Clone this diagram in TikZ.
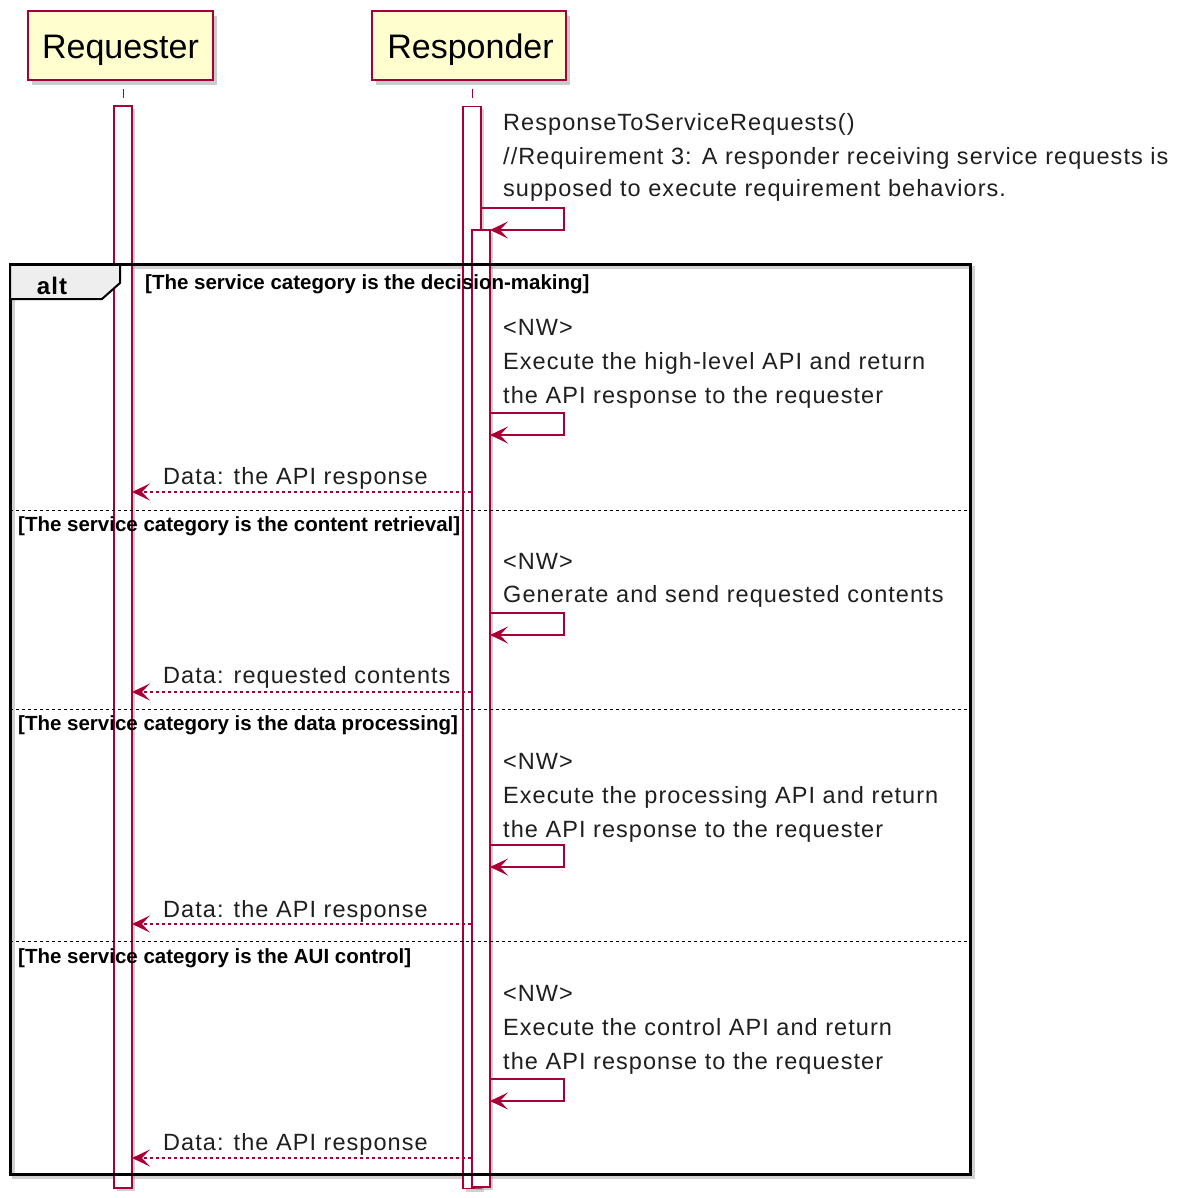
\documentclass[tikz,border=0pt]{standalone}
\usepackage{fontspec}
\setmainfont{Liberation Sans}
\newfontfamily\msgfont[LetterSpace=4.5]{Liberation Sans}
\newfontfamily\altfont[LetterSpace=5]{Liberation Sans}
\usetikzlibrary{arrows.meta,shadows}
\definecolor{umlred}{HTML}{A80036}
\definecolor{umlfill}{HTML}{FEFECE}
\definecolor{tabgray}{HTML}{EEEEEE}
\begin{document}
\begin{tikzpicture}[x=1pt,y=-1pt,
  participant/.style={draw=umlred, fill=umlfill, line width=1.6pt, inner sep=0pt,
    drop shadow={shadow xshift=4pt, shadow yshift=-5pt, fill=black!45, opacity=.45}},
  partlabel/.style={anchor=base, inner sep=0pt, font=\fontsize{34}{40}\selectfont},
  actbox/.style={draw=umlred, fill=white, line width=1.3pt, inner sep=0pt, minimum width=18pt,
    drop shadow={shadow xshift=3pt, shadow yshift=-3pt, fill=black!40, opacity=.45}},
  lifeline/.style={draw=umlred, line width=1pt},
  msg/.style={draw=umlred, line width=1.3pt, -{Stealth[length=18pt,width=17pt,inset=8pt]}},
  ret/.style={msg, dash pattern=on 3pt off 3pt},
  msgtext/.style={anchor=base west, inner sep=0pt, font=\msgfont\fontsize{23.5}{28}\selectfont, text=black!88},
  guard/.style={anchor=base west, inner sep=0pt, font=\bfseries\fontsize{20.5}{24}\selectfont},
  frameline/.style={draw=black, line width=3pt},
  separator/.style={draw=black, line width=1pt, dash pattern=on 3pt off 3pt},
]
\useasboundingbox[fill=white] (0,0) rectangle (1190,1198);

% participants
\node[participant, minimum width=185pt, minimum height=69pt] (req) at (120.5,45.5) {};
\node[partlabel] (reqname) at (120.5,59) {Requester};
\node[participant, minimum width=194pt, minimum height=69pt] (rsp) at (469,45.5) {};
\node[partlabel] (rspname) at (470.5,59) {Responder};

% lifeline stubs between header and activation
\coordinate (reqtop) at (123,89);
\coordinate (rsptop) at (472,89);
\draw[lifeline] (reqtop) -- ++(0,9);
\draw[lifeline] (rsptop) -- ++(0,9);

% shadow of the alt frame outline
\draw[black!45, opacity=.4, line width=3.5pt] (13.5,267.5) rectangle (973.5,1177.5);

% activation bars
\node[actbox, minimum height=1082pt] (reqact) at (123,647) {};
\node[actbox, minimum height=1082pt] (rspact) at (472,647.5) {};
\node[actbox, minimum height=957pt] (rspact2) at (481,708.5) {};

% alt frame
\draw[frameline] (10,264) rectangle (970,1174);
\draw[fill=tabgray, draw=black, line width=2pt] (10,264) -- (120,264) -- (120,283) -- (102,299) -- (10,299) -- cycle;
\draw[frameline] (10,264) -- (970,264);
\node[anchor=base, inner sep=0pt, font=\altfont\bfseries\fontsize{24}{28}\selectfont] (altlabel) at (52,294) {alt};
\node[guard] (g1) at (145,289) {[The service category is the decision-making]};

\draw[separator] (10,510) -- (970,510);
\node[guard] (g2) at (18,531) {[The service category is the content retrieval]};
\draw[separator] (10,709) -- (970,709);
\node[guard] (g3) at (18,730) {[The service category is the data processing]};
\draw[separator] (10,941) -- (970,941);
\node[guard] (g4) at (18,963) {[The service category is the AUI control]};

% request handling self call
\node[msgtext] (t0a) at (503,131) {ResponseToServiceRequests()};
\node[msgtext] (t0b) at (503,164.5) {//Requirement 3: A responder receiving service requests is};
\node[msgtext] (t0c) at (503,197) {supposed to execute requirement behaviors.};
\coordinate (s0a) at (481,208);
\coordinate (s0b) at (490,230);
\draw[msg] (s0a) -- ++(83,0) |- (s0b);

% branch 1
\node[msgtext] (t1a) at (503,335) {<NW>};
\node[msgtext] (t1b) at (503,369) {Execute the high-level API and return};
\node[msgtext] (t1c) at (503,403) {the API response to the requester};
\coordinate (s1a) at (490,413);
\coordinate (s1b) at (490,435);
\draw[msg] (s1a) -- ++(74,0) |- (s1b);
\node[msgtext] (d1) at (163,484) {Data: the API response};
\coordinate (r1a) at (471,492);
\coordinate (r1b) at (132,492);
\draw[ret] (r1a) -- (r1b);

% branch 2
\node[msgtext] (t2a) at (503,569) {<NW>};
\node[msgtext] (t2b) at (503,602) {Generate and send requested contents};
\coordinate (s2a) at (490,613);
\coordinate (s2b) at (490,635);
\draw[msg] (s2a) -- ++(74,0) |- (s2b);
\node[msgtext] (d2) at (163,683) {Data: requested contents};
\coordinate (r2a) at (471,692);
\coordinate (r2b) at (132,692);
\draw[ret] (r2a) -- (r2b);

% branch 3
\node[msgtext] (t3a) at (503,769) {<NW>};
\node[msgtext] (t3b) at (503,803) {Execute the processing API and return};
\node[msgtext] (t3c) at (503,837) {the API response to the requester};
\coordinate (s3a) at (490,845);
\coordinate (s3b) at (490,867);
\draw[msg] (s3a) -- ++(74,0) |- (s3b);
\node[msgtext] (d3) at (163,917) {Data: the API response};
\coordinate (r3a) at (471,924);
\coordinate (r3b) at (132,924);
\draw[ret] (r3a) -- (r3b);

% branch 4
\node[msgtext] (t4a) at (503,1001) {<NW>};
\node[msgtext] (t4b) at (503,1035) {Execute the control API and return};
\node[msgtext] (t4c) at (503,1069) {the API response to the requester};
\coordinate (s4a) at (490,1079);
\coordinate (s4b) at (490,1101);
\draw[msg] (s4a) -- ++(74,0) |- (s4b);
\node[msgtext] (d4) at (163,1150) {Data: the API response};
\coordinate (r4a) at (471,1158);
\coordinate (r4b) at (132,1158);
\draw[ret] (r4a) -- (r4b);
\end{tikzpicture}
\end{document}
